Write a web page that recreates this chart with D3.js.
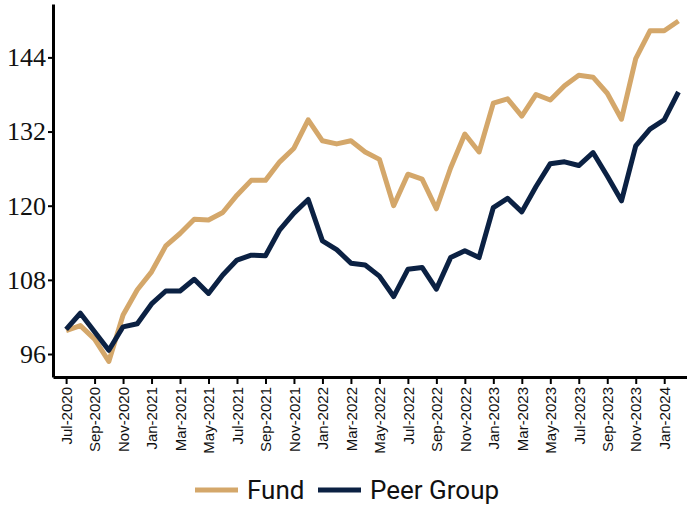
<!DOCTYPE html>
<html>
<head>
<meta charset="utf-8">
<script src="https://cdn.jsdelivr.net/npm/d3@7"></script>
<style>
  body { margin: 0; background: #fff; }
  svg { display: block; }
</style>
</head>
<body>
<svg width="687" height="506"></svg>
<script>
// month labels, Jul-2020 .. Feb-2024
const monthNames = ['Jan','Feb','Mar','Apr','May','Jun','Jul','Aug','Sep','Oct','Nov','Dec'];
const months = d3.range(44).map(i => {
  const m = (6 + i) % 12;
  const y = 2020 + Math.floor((6 + i) / 12);
  return monthNames[m] + '-' + y;
});

const fund = [99.8, 100.6, 98.4, 94.8, 102.3, 106.4, 109.3, 113.5, 115.5, 117.8,
  117.7, 118.9, 121.7, 124.1, 124.1, 127.1, 129.3, 133.9, 130.5, 130.0,
  130.5, 128.7, 127.5, 120.0, 125.1, 124.3, 119.5, 126.1, 131.6, 128.7,
  136.6, 137.3, 134.5, 138.0, 137.1, 139.4, 141.1, 140.8, 138.2, 134.0,
  143.8, 148.3, 148.3, 149.9];

const peer = [100.0, 102.6, 99.6, 96.6, 100.4, 100.9, 104.1, 106.2, 106.2, 108.1,
  105.8, 108.8, 111.2, 112.0, 111.9, 116.1, 118.8, 121.0, 114.3, 112.9,
  110.7, 110.4, 108.6, 105.3, 109.7, 110.0, 106.5, 111.6, 112.7, 111.6,
  119.7, 121.2, 119.0, 123.1, 126.8, 127.1, 126.5, 128.6, 124.8, 120.8,
  129.7, 132.4, 133.9, 138.4];

const yTicks = [96, 108, 120, 132, 144];

const seriesNames = ['Fund', 'Peer Group'];
const seriesColors = ['#D4A76A', '#0B2143'];

const svg = d3.select('svg');

const x = d3.scaleLinear().domain([-0.92, 43.6]).range([53, 687]);
const y = d3.scaleLinear().domain([92.28, 152.64]).range([377, 4]);

// axes
const xAxisG = svg.append('g')
  .attr('transform', 'translate(0,377)')
  .call(d3.axisBottom(x)
    .tickValues(d3.range(0, 44, 2))
    .tickFormat(i => months[i])
    .tickSize(7)
    .tickSizeOuter(0));
xAxisG.select('.domain').attr('stroke-width', 3);
xAxisG.selectAll('.tick line').attr('stroke-width', 2);
xAxisG.selectAll('.tick text')
  .attr('transform', 'rotate(-90)')
  .attr('text-anchor', 'end')
  .attr('x', -10)
  .attr('y', 0)
  .attr('dy', '0.35em')
  .style('font-family', '"Liberation Sans", Arial, sans-serif')
  .style('font-size', '15px')
  .attr('fill', '#111');

const yAxisG = svg.append('g')
  .attr('transform', 'translate(53,0)')
  .call(d3.axisLeft(y)
    .tickValues(yTicks)
    .tickSize(5)
    .tickPadding(2)
    .tickSizeOuter(0));
yAxisG.select('.domain').attr('stroke-width', 3);
yAxisG.selectAll('.tick line').attr('stroke-width', 2);
yAxisG.selectAll('.tick text')
  .style('font-family', '"Liberation Serif", "Times New Roman", serif')
  .style('font-size', '26px')
  .attr('fill', '#111');

// lines
const line = d3.line()
  .x((d, i) => x(i))
  .y(d => y(d));

[fund, peer].forEach((s, k) => {
  svg.append('path')
    .datum(s)
    .attr('fill', 'none')
    .attr('stroke', seriesColors[k])
    .attr('stroke-width', 5)
    .attr('stroke-linejoin', 'round')
    .attr('d', line);
});

// legend
const legend = svg.append('g').attr('transform', 'translate(195,490)');
const legendX = [0, 123];
seriesNames.forEach((name, k) => {
  const g = legend.append('g').attr('transform', `translate(${legendX[k]},0)`);
  g.append('line')
    .attr('x1', 0).attr('x2', 43)
    .attr('stroke', seriesColors[k])
    .attr('stroke-width', 5);
  g.append('text')
    .attr('x', 52)
    .attr('dy', '0.35em')
    .style('font-family', 'Roboto, sans-serif')
    .style('font-size', '26px')
    .attr('fill', '#111')
    .text(name);
});
</script>
</body>
</html>
